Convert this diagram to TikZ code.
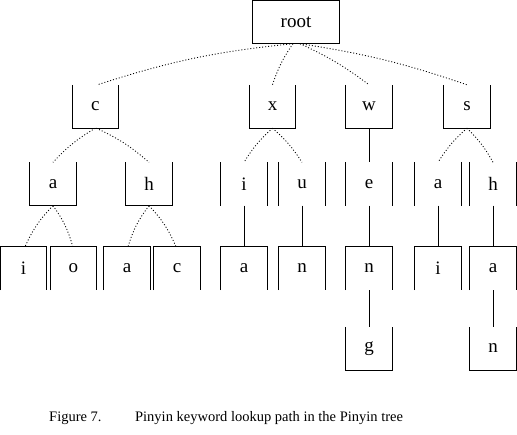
\documentclass[tikz,border=0pt]{standalone}
\usepackage{fontspec}
\setmainfont{Liberation Serif}
\begin{document}
\begin{tikzpicture}[x=1pt,y=-1pt,
  box/.style={draw=none, minimum width=46pt, minimum height=43pt, inner sep=0pt,
    font=\fontsize{19}{19}\selectfont},
  ln/.style={line width=0.9pt},
  dotln/.style={line width=0.85pt, dash pattern=on 1pt off 2pt},
  capt/.style={anchor=base west, inner sep=0pt, font=\fontsize{14.5}{14.5}\selectfont}
]
\useasboundingbox (0,0) rectangle (517,435);
% level 0
\node[box, minimum width=86pt] (root) at (296,22) {root};
% level 1
\node[box] (c) at (95.3,106.5) {c};
\node[box] (x) at (272.5,106.5) {x};
\node[box] (w) at (369,106.5) {w};
\node[box] (s) at (467,106.5) {s};
% level 2
\node[box] (ca) at (53,184) {a};
\node[box] (ch) at (149,184) {h};
\node[box] (xi) at (244,184) {i};
\node[box] (xu) at (302,184) {u};
\node[box] (we) at (369,184) {e};
\node[box] (sa) at (438,184) {a};
\node[box] (sh) at (493,184) {h};
% level 3
\node[box] (cai) at (23.5,268.5) {i};
\node[box] (cao) at (73.3,268.5) {o};
\node[box] (cha) at (127,268.5) {a};
\node[box] (chc) at (177,268.5) {c};
\node[box] (xia) at (244,268.5) {a};
\node[box] (xun) at (302,268.5) {n};
\node[box] (wen) at (369,268.5) {n};
\node[box] (sai) at (438,268.5) {i};
\node[box] (sha) at (493,268.5) {a};
% level 4
\node[box] (weng) at (369,348.5) {g};
\node[box] (shan) at (493,348.5) {n};

% box outlines
\draw[ln] (root.north west) rectangle (root.south east);
\foreach \n in {c,x,w,s,ca,ch,weng,shan}
  \draw[ln] (\n.north west) -- (\n.south west) -- (\n.south east) -- (\n.north east);
\foreach \n in {xi,xu,we,sa,sh}{
  \draw[ln] (\n.north west) -- (\n.south west);
  \draw[ln] (\n.north east) -- (\n.south east);}
\foreach \n in {cai,cao,cha,chc,xia,xun,wen,sai,sha}
  \draw[ln] (\n.south west) -- (\n.north west) -- (\n.north east) -- (\n.south east);

% dotted connectors
\draw[dotln] ([xshift=-3pt]root.south) to[bend right=6] ([xshift=2pt]c.north);
\draw[dotln] ([xshift=-3pt]root.south) to[bend right=8] (x.north);
\draw[dotln] ([xshift=4pt]root.south) to[bend left=6] (w.north);
\draw[dotln] ([xshift=4pt]root.south) to[bend left=5] (s.north);
\draw[dotln] (c.south) to[bend right=8] (ca.north);
\draw[dotln] ([xshift=1pt]c.south) to[bend left=8] (ch.north);
\draw[dotln] (x.south) to[bend right=8] (xi.north);
\draw[dotln] (x.south) to[bend left=8] (xu.north);
\draw[dotln] (s.south) to[bend right=8] (sa.north);
\draw[dotln] (s.south) to[bend left=8] (sh.north);
\draw[dotln] (ca.south) to[bend right=10] ([xshift=1.5pt]cai.north);
\draw[dotln] (ca.south) to[bend left=10] ([xshift=-0.5pt]cao.north);
\draw[dotln] (ch.south) to[bend right=10] ([xshift=1pt]cha.north);
\draw[dotln] (ch.south) to[bend left=10] ([xshift=-1pt]chc.north);

% solid connectors
\foreach \a/\b in {w/we,xi/xia,xu/xun,we/wen,sa/sai,sh/sha,wen/weng,sha/shan}
  \draw[ln] (\a.south) -- (\b.north);

% caption
\node[capt] (cap) at (49,422) {Figure 7.\hspace{33.6pt}Pinyin keyword lookup path in the Pinyin tree};
\end{tikzpicture}
\end{document}
